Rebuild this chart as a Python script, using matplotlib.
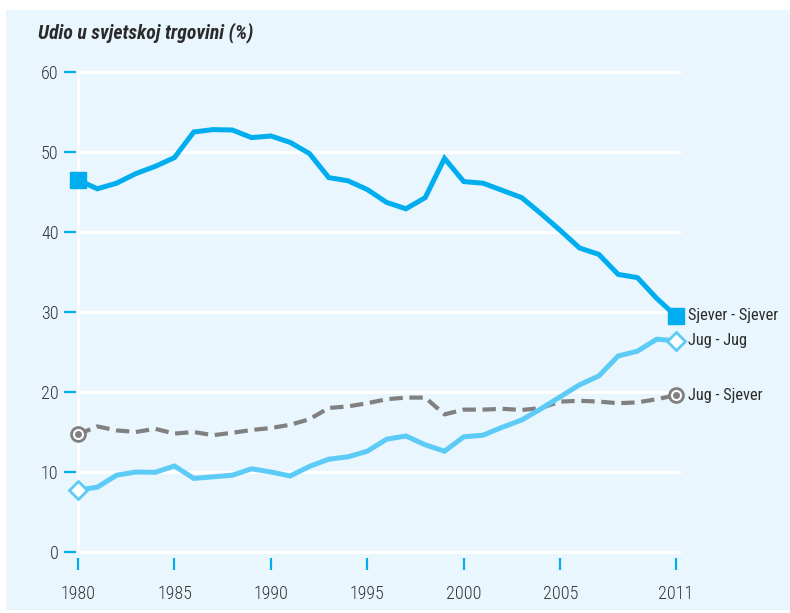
import matplotlib
matplotlib.use("Agg")
import matplotlib.pyplot as plt
from matplotlib import font_manager
from matplotlib.patches import Rectangle

# pick a narrow font if one is installed
names = {f.name for f in font_manager.fontManager.ttflist}
FONT = "DejaVu Sans"
for cand in ["Roboto Condensed", "Liberation Sans Narrow", "Archivo Narrow"]:
    if cand in names:
        FONT = cand
        break
plt.rcParams['font.family'] = [FONT, 'DejaVu Sans']

years = list(range(1980, 2012))
sjever_sjever = [46.5, 45.4, 46.1, 47.3, 48.2, 49.3, 52.5, 52.8, 52.75, 51.8,
                 52.0, 51.2, 49.8, 46.8, 46.4, 45.3, 43.7, 42.9, 44.3, 49.2,
                 46.3, 46.1, 45.2, 44.3, 42.3, 40.2, 38.0, 37.2, 34.7, 34.3,
                 31.7, 29.5]
jug_jug = [7.75, 8.1, 9.6, 10.0, 9.96, 10.75, 9.2, 9.4, 9.6, 10.4,
           10.0, 9.5, 10.7, 11.6, 11.9, 12.6, 14.1, 14.5, 13.4, 12.6,
           14.4, 14.6, 15.6, 16.5, 17.9, 19.4, 20.9, 22.0, 24.5, 25.1,
           26.6, 26.4]
jug_sjever = [14.7, 15.7, 15.2, 15.0, 15.4, 14.8, 15.0, 14.6, 14.9, 15.25,
              15.5, 15.9, 16.6, 18.0, 18.2, 18.6, 19.1, 19.3, 19.3, 17.2,
              17.8, 17.8, 17.9, 17.75, 18.0, 18.8, 18.9, 18.8, 18.6, 18.7,
              19.1, 19.6]
series_labels = ["Sjever - Sjever", "Jug - Jug", "Jug - Sjever"]
yticks = [0, 10, 20, 30, 40, 50, 60]
xticks = [1980, 1985, 1990, 1995, 2000, 2005, 2011]

BG = "#eaf6fd"
BLUE = "#00aeef"
LIGHT = "#5ccbf6"
GREY = "#808080"
TEXT = "#2b2b2b"

fig = plt.figure(figsize=(7.9, 6.13), dpi=100)
fig.patches.append(Rectangle((6/790, 3/613), 1 - 6/790, 600/613,
                             transform=fig.transFigure, facecolor=BG,
                             edgecolor='none', zorder=-10))

ax = fig.add_axes([78/790, 61/613, 601/790, 480/613])
ax.set_facecolor(BG)
ax.set_xlim(1980, 1980 + 601 / (598 / 31))
ax.set_ylim(0, 60)

for s in ax.spines.values():
    s.set_visible(False)
ax.spines['bottom'].set_position(('outward', 4.5))
ax.spines['left'].set_position(('outward', 1.5))

for y in yticks:
    ax.axhline(y, color='white', lw=2.2, zorder=1, clip_on=False)
ax.axvline(1980, color='white', lw=2.2, zorder=1, clip_on=False)

ax.set_yticks(yticks)
ax.set_xticks(xticks)
ax.tick_params(axis='y', direction='out', length=8.5, width=1.6, color=BLUE,
               labelsize=13, labelcolor='#333333', pad=4)
ax.tick_params(axis='x', direction='out', length=8.5, width=1.6, color=BLUE,
               labelsize=13, labelcolor='#333333', pad=11)
for lbl in ax.get_xticklabels() + ax.get_yticklabels():
    lbl.set_fontweight('light')

ax.plot(years, jug_sjever, color=GREY, lw=3, dashes=(3.2, 1.6), zorder=3,
        solid_capstyle='butt')
ax.plot(years, jug_jug, color=LIGHT, lw=3.6, zorder=4, solid_joinstyle='miter')
ax.plot(years, sjever_sjever, color=BLUE, lw=3.6, zorder=5, solid_joinstyle='miter')

ends = [0, -1]
ax.plot([years[i] for i in ends], [sjever_sjever[i] for i in ends], 's',
        ms=11.5, color=BLUE, mec=BLUE, zorder=6, clip_on=False)
ax.plot([years[i] for i in ends], [jug_jug[i] for i in ends], 'D',
        ms=9.5, mfc='white', mec=LIGHT, mew=2, zorder=6, clip_on=False)
ax.plot([years[i] for i in ends], [jug_sjever[i] for i in ends], 'o',
        ms=10, mfc='white', mec=GREY, mew=2, zorder=6, clip_on=False)
ax.plot([years[i] for i in ends], [jug_sjever[i] for i in ends], 'o',
        ms=4, color=GREY, zorder=7, clip_on=False)

for vals, lab in zip([sjever_sjever, jug_jug, jug_sjever], series_labels):
    ax.annotate(lab, (years[-1], vals[-1]), xytext=(9, 0),
                textcoords='offset points', va='center', ha='left',
                fontsize=11.8, color=TEXT, annotation_clip=False)

fig.text(38/790, 1 - 33/613, "Udio u svjetskoj trgovini (%)", fontsize=14.2,
         fontweight='bold', fontstyle='italic', color=TEXT, va='center',
         ha='left')

fig.savefig("out.png", dpi=100, facecolor='white')
